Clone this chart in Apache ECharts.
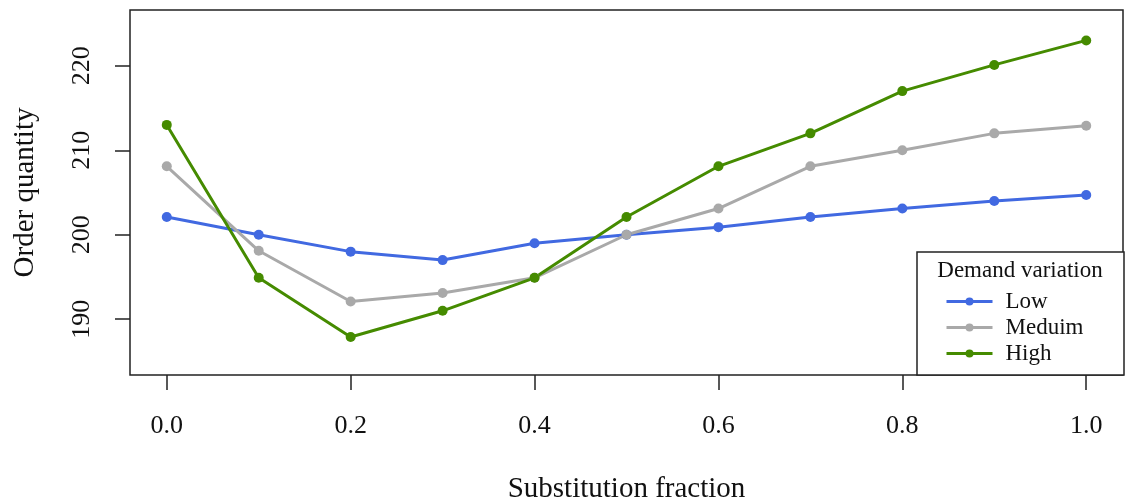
<!DOCTYPE html>
<html>
<head>
<meta charset="utf-8">
<script src="https://cdn.jsdelivr.net/npm/echarts@6/dist/echarts.min.js"></script>
<style>
  html, body { margin: 0; padding: 0; background: #fff; }
  #chart { width: 1125px; height: 499px; }
</style>
</head>
<body>
<div id="chart"></div>
<script>
var dom = document.getElementById("chart");
var myChart = echarts.init(dom);

var fractions = [0.0, 0.1, 0.2, 0.3, 0.4, 0.5, 0.6, 0.7, 0.8, 0.9, 1.0];
var lowValues = [202.1, 200, 198, 197, 199, 200, 200.9, 202.1, 203.1, 204, 204.7];
var mediumValues = [208.1, 198.1, 192.1, 193.1, 194.9, 200, 203.1, 208.1, 210, 212, 212.9];
var highValues = [213, 194.9, 187.9, 191, 194.9, 202.1, 208.1, 212, 217, 220.1, 223];
var xTicks = [0.0, 0.2, 0.4, 0.6, 0.8, 1.0];
var yTicks = [190, 200, 210, 220];

var font = 'Liberation Serif';

function pairs(vals) {
    return fractions.map(function (f, i) { return [f, vals[i]]; });
}

function lineSeries(name, vals, color) {
    return {
        name: name,
        type: 'line',
        data: pairs(vals),
        symbol: 'circle',
        symbolSize: 10,
        lineStyle: { color: color, width: 3 },
        itemStyle: { color: color },
        emphasis: { disabled: true },
        animation: false
    };
}

option = {
    backgroundColor: '#fff',
    grid: {
        left: 130,
        right: 2,
        top: 10,
        bottom: 124,
        outerBoundsMode: 'none',
        containLabel: false,
        show: true,
        borderColor: '#222',
        borderWidth: 1.5,
        backgroundColor: 'transparent'
    },
    xAxis: {
        type: 'value',
        min: -0.04,
        max: 1.04,
        name: 'Substitution fraction',
        nameLocation: 'middle',
        nameGap: 100,
        nameTextStyle: { fontFamily: font, fontSize: 29, color: '#111' },
        axisLine: { show: false, onZero: false },
        splitLine: { show: false },
        axisTick: {
            show: true,
            length: 15,
            customValues: xTicks,
            lineStyle: { color: '#222', width: 1.5 }
        },
        axisLabel: {
            customValues: xTicks,
            margin: 38,
            fontFamily: font,
            fontSize: 26,
            color: '#111',
            formatter: function (v) { return v.toFixed(1); }
        }
    },
    yAxis: {
        type: 'value',
        min: 183.4,
        max: 226.6,
        name: 'Order quantity',
        nameLocation: 'middle',
        nameGap: 90,
        nameTextStyle: { fontFamily: font, fontSize: 29, color: '#111' },
        axisLine: { show: false, onZero: false },
        splitLine: { show: false },
        axisTick: {
            show: true,
            length: 15,
            customValues: yTicks,
            lineStyle: { color: '#222', width: 1.5 }
        },
        axisLabel: {
            customValues: yTicks,
            rotate: 90,
            margin: 35,
            fontFamily: font,
            fontSize: 26,
            color: '#111'
        }
    },
    legend: {
        orient: 'vertical',
        left: 940,
        top: 285,
        z: 20,
        itemWidth: 46,
        itemHeight: 10,
        itemGap: 3,
        data: ['Low', 'Meduim', 'High'],
        lineStyle: { width: 3 },
        textStyle: { fontFamily: font, fontSize: 23, color: '#111', padding: [0, 0, 0, 8] },
        selectedMode: false
    },
    graphic: [
        {
            type: 'rect',
            shape: { x: 917, y: 252, width: 207, height: 123 },
            style: { fill: '#fff', stroke: '#222', lineWidth: 1.5 },
            z: 5
        },
        {
            type: 'text',
            x: 1020,
            y: 271,
            style: {
                text: 'Demand variation',
                fontFamily: font,
                fontSize: 23,
                fill: '#111',
                align: 'center',
                verticalAlign: 'middle'
            },
            z: 6
        }
    ],
    series: [
        lineSeries('Low', lowValues, '#4169E1'),
        lineSeries('Meduim', mediumValues, '#A9A9A9'),
        lineSeries('High', highValues, '#458B00')
    ]
};

if (option && typeof option === "object") {
    myChart.setOption(option, true);
}

window.addEventListener("resize", function () {
    myChart.resize();
});
</script>
</body>
</html>
